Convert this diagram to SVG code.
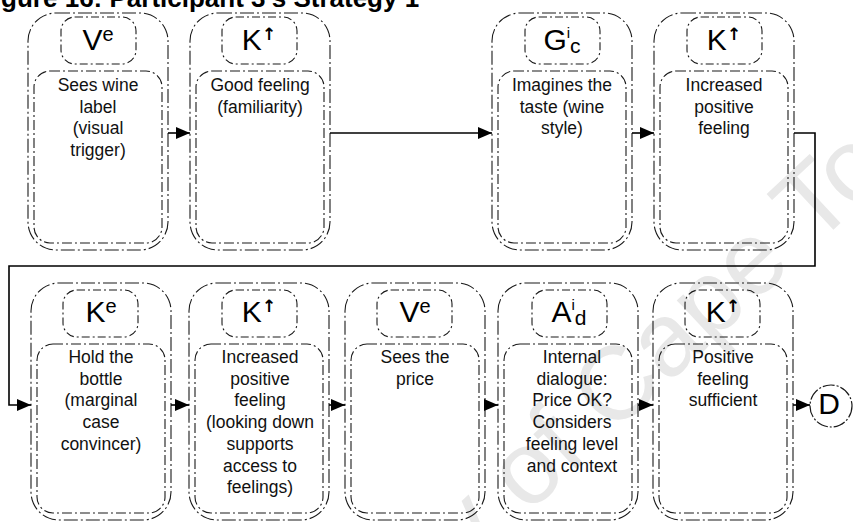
<svg xmlns="http://www.w3.org/2000/svg" width="853" height="522" viewBox="0 0 853 522">
  <style>
    .outer{fill:none;stroke:#1a1a1a;stroke-width:1.1;stroke-dasharray:14 3 2 3}
    .head{fill:none;stroke:#1a1a1a;stroke-width:1.1;stroke-dasharray:8 3 2 3}
    .body{fill:none;stroke:#1a1a1a;stroke-width:1.1;stroke-dasharray:10 3 2 3}
    .lbl{font-family:"Liberation Sans",Arial,Helvetica,sans-serif;font-size:30px;fill:#000;text-anchor:middle}
    .up{font-family:"DejaVu Sans",sans-serif;font-size:17px;font-weight:bold}
    .txt{font-family:"Liberation Sans",Arial,Helvetica,sans-serif;font-size:17.5px;fill:#111;text-anchor:middle}
    .wire{fill:none;stroke:#000;stroke-width:1.6}
    .title{font-family:"Liberation Sans",Arial,Helvetica,sans-serif;font-size:26px;font-weight:bold;fill:#000}
    .mark{font-family:"Liberation Sans",Arial,Helvetica,sans-serif;font-size:104px;fill:#e8e8e8}
  </style>
  <defs>
    <marker id="ah" markerWidth="14" markerHeight="12" refX="14" refY="6" orient="auto" markerUnits="userSpaceOnUse">
      <path d="M0,0 L14,6 L0,12 Z" fill="#000"/>
    </marker>
  </defs>

  <rect width="853" height="522" fill="#fff"/>

  <!-- watermark -->
  <text class="mark" transform="translate(612 436) rotate(-43)" x="-601" y="0">University of Cape Town</text>

  <!-- heading -->
  <text class="title" x="-22" y="7">Figure 16: Participant 3's Strategy 1</text>

  <!-- top row -->
  <g id="n1" transform="translate(28,13)">
    <rect class="outer" x="0" y="0" width="140" height="237" rx="28"/>
    <rect class="head" x="33" y="4" width="75" height="47" rx="14"/>
    <rect class="body" x="6" y="58" width="128" height="172" rx="16"/>
    <text class="lbl" x="70" y="37">V<tspan font-size="20" dy="-9">e</tspan></text>
    <text class="txt" x="70" y="78">Sees wine<tspan x="70" dy="21.5">label</tspan><tspan x="70" dy="21.5">(visual</tspan><tspan x="70" dy="21.5">trigger)</tspan></text>
  </g>

  <g id="n2" transform="translate(190,13)">
    <rect class="outer" x="0" y="0" width="140" height="237" rx="28"/>
    <rect class="head" x="32" y="4" width="75" height="47" rx="14"/>
    <rect class="body" x="6" y="58" width="128" height="172" rx="16"/>
    <text class="lbl" x="69" y="37">K<tspan class="up" dy="-10">↑</tspan></text>
    <text class="txt" x="70" y="78">Good feeling<tspan x="70" dy="21.5">(familiarity)</tspan></text>
  </g>

  <g id="n3" transform="translate(492,13)">
    <rect class="outer" x="0" y="0" width="140" height="237" rx="28"/>
    <rect class="head" x="33" y="4" width="75" height="47" rx="14"/>
    <rect class="body" x="6" y="58" width="128" height="172" rx="16"/>
    <text class="lbl" x="70" y="37">G<tspan font-size="15" dy="-12">i</tspan><tspan font-size="21" dy="15">c</tspan></text>
    <text class="txt" x="70" y="78">Imagines the<tspan x="70" dy="21.5">taste (wine</tspan><tspan x="70" dy="21.5">style)</tspan></text>
  </g>

  <g id="n4" transform="translate(654,13)">
    <rect class="outer" x="0" y="0" width="140" height="237" rx="28"/>
    <rect class="head" x="33" y="4" width="75" height="47" rx="14"/>
    <rect class="body" x="6" y="58" width="128" height="172" rx="16"/>
    <text class="lbl" x="70" y="37">K<tspan class="up" dy="-10">↑</tspan></text>
    <text class="txt" x="70" y="78">Increased<tspan x="70" dy="21.5">positive</tspan><tspan x="70" dy="21.5">feeling</tspan></text>
  </g>

  <!-- bottom row -->
  <g id="n5" transform="translate(31,283)">
    <rect class="outer" x="0" y="0" width="140" height="237" rx="28"/>
    <rect class="head" x="32" y="7" width="75" height="47" rx="14"/>
    <rect class="body" x="6" y="61" width="128" height="169" rx="16"/>
    <text class="lbl" x="70" y="39">K<tspan font-size="20" dy="-9">e</tspan></text>
    <text class="txt" x="70" y="80">Hold the<tspan x="70" dy="21.7">bottle</tspan><tspan x="70" dy="21.7">(marginal</tspan><tspan x="70" dy="21.7">case</tspan><tspan x="70" dy="21.7">convincer)</tspan></text>
  </g>

  <g id="n6" transform="translate(189,283)">
    <rect class="outer" x="0" y="0" width="140" height="237" rx="28"/>
    <rect class="head" x="33" y="7" width="75" height="47" rx="14"/>
    <rect class="body" x="6" y="61" width="128" height="169" rx="16"/>
    <text class="lbl" x="70" y="39">K<tspan class="up" dy="-10">↑</tspan></text>
    <text class="txt" x="71" y="80">Increased<tspan x="71" dy="21.7">positive</tspan><tspan x="71" dy="21.7">feeling</tspan><tspan x="71" dy="21.7">(looking down</tspan><tspan x="71" dy="21.7">supports</tspan><tspan x="71" dy="21.7">access to</tspan><tspan x="71" dy="21.7">feelings)</tspan></text>
  </g>

  <g id="n7" transform="translate(345,283)">
    <rect class="outer" x="0" y="0" width="140" height="237" rx="28"/>
    <rect class="head" x="32" y="7" width="75" height="47" rx="14"/>
    <rect class="body" x="6" y="61" width="128" height="169" rx="16"/>
    <text class="lbl" x="70" y="39">V<tspan font-size="20" dy="-9">e</tspan></text>
    <text class="txt" x="70" y="80">Sees the<tspan x="70" dy="21.7">price</tspan></text>
  </g>

  <g id="n8" transform="translate(498,283)">
    <rect class="outer" x="0" y="0" width="140" height="237" rx="28"/>
    <rect class="head" x="34" y="7" width="75" height="47" rx="14"/>
    <rect class="body" x="6" y="61" width="128" height="169" rx="16"/>
    <text class="lbl" x="71" y="39">A<tspan font-size="15" dy="-12">i</tspan><tspan font-size="21" dy="15">d</tspan></text>
    <text class="txt" x="74" y="80">Internal<tspan x="74" dy="21.7">dialogue:</tspan><tspan x="74" dy="21.7">Price OK?</tspan><tspan x="74" dy="21.7">Considers</tspan><tspan x="74" dy="21.7">feeling level</tspan><tspan x="74" dy="21.7">and context</tspan></text>
  </g>

  <g id="n9" transform="translate(653,283)">
    <rect class="outer" x="0" y="0" width="140" height="237" rx="28"/>
    <rect class="head" x="32" y="7" width="75" height="47" rx="14"/>
    <rect class="body" x="6" y="61" width="128" height="169" rx="16"/>
    <text class="lbl" x="70" y="39">K<tspan class="up" dy="-10">↑</tspan></text>
    <text class="txt" x="70" y="80">Positive<tspan x="70" dy="21.7">feeling</tspan><tspan x="70" dy="21.7">sufficient</tspan></text>
  </g>

  <g id="end">
    <circle cx="831" cy="406" r="21" fill="none" stroke="#1a1a1a" stroke-width="1.2" stroke-dasharray="12 2 2 2"/>
    <text class="lbl" x="829" y="414" font-size="23">D</text>
  </g>

  <!-- connectors -->
  <g id="connectors">
    <path class="wire" d="M168,133 H190" marker-end="url(#ah)"/>
    <path class="wire" d="M330,133 H492" marker-end="url(#ah)"/>
    <path class="wire" d="M632,133 H654" marker-end="url(#ah)"/>
    <path class="wire" d="M794,133 H815 V266 H9 V405 H31" marker-end="url(#ah)"/>
    <path class="wire" d="M171,405 H189" marker-end="url(#ah)"/>
    <path class="wire" d="M329,405 H345" marker-end="url(#ah)"/>
    <path class="wire" d="M485,405 H498" marker-end="url(#ah)"/>
    <path class="wire" d="M638,405 H653" marker-end="url(#ah)"/>
    <path class="wire" d="M793,405 H810" marker-end="url(#ah)"/>
  </g>
</svg>
